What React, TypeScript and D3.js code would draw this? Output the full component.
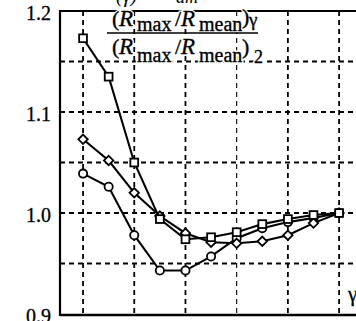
import React from "react";
import * as d3 from "d3";

// gamma positions of the measured points
const gammas = [1.0, 1.1, 1.2, 1.3, 1.4, 1.5, 1.6, 1.7, 1.8, 1.9, 2.0];
// normalised ratio for the three cases
const squareSeries = [1.173, 1.135, 1.05, 0.994, 0.974, 0.976, 0.981, 0.989, 0.994, 0.998, 1.0];
const diamondSeries = [1.073, 1.052, 1.02, 0.997, 0.98, 0.971, 0.97, 0.972, 0.978, 0.99, 1.0];
const circleSeries = [1.039, 1.026, 0.978, 0.943, 0.943, 0.957, 0.975, 0.985, 0.991, 0.995, 1.0];
// grid lines
const xGrid = [1.0, 1.2, 1.4, 1.6, 1.8, 2.0];
const yGrid = [0.95, 1.0, 1.05, 1.1, 1.15];
const yTicks = [0.9, 1.0, 1.1, 1.2];

const W = 356;
const H = 321;
const left = 60;
const top = 11;
const bottom = 314;

const x = d3.scaleLinear().domain([0.91, 2.066]).range([left, W]);
const y = d3.scaleLinear().domain([0.9, 1.2]).range([bottom, top]);

const serif = "Liberation Serif, serif";

function Marker({ kind, cx, cy }: { kind: string; cx: number; cy: number }) {
  const common = { fill: "white", stroke: "black", strokeWidth: 1.8 };
  if (kind === "square") {
    return <rect x={cx - 3.9} y={cy - 3.9} width={7.8} height={7.8} {...common} />;
  }
  if (kind === "diamond") {
    const r = 4.7;
    return (
      <path d={`M${cx},${cy - r}L${cx + r},${cy}L${cx},${cy + r}L${cx - r},${cy}Z`} {...common} />
    );
  }
  return <circle cx={cx} cy={cy} r={4.1} {...common} />;
}

// one piece of the fraction label
type Piece = { t: string; x: number; y: number; s: number; it?: boolean };

const numerator: Piece[] = [
  { t: "(", x: 112, y: 26, s: 22 },
  { t: "R", x: 119, y: 26, s: 23, it: true },
  { t: "max", x: 137, y: 31, s: 20 },
  { t: "/", x: 175, y: 26, s: 22 },
  { t: "R", x: 181, y: 26, s: 23, it: true },
  { t: "mean", x: 199, y: 31, s: 20 },
  { t: ")", x: 242, y: 24, s: 22 },
  { t: "γ", x: 249, y: 26, s: 19 },
];
const denominator: Piece[] = [
  { t: "(", x: 112, y: 54, s: 22 },
  { t: "R", x: 119, y: 54, s: 23, it: true },
  { t: "max", x: 137, y: 62, s: 20 },
  { t: "/", x: 175, y: 54, s: 22 },
  { t: "R", x: 181, y: 54, s: 23, it: true },
  { t: "mean", x: 199, y: 62, s: 20 },
  { t: ")", x: 242, y: 54, s: 22 },
  { t: "2", x: 254, y: 63, s: 18 },
];

function Pieces({ items }: { items: Piece[] }) {
  return (
    <>
      {/* white halo keeps the frame/grid clear around the glyphs */}
      <g fill="white" stroke="white" strokeWidth={3}>
        {items.map((p, i) => (
          <text key={i} x={p.x} y={p.y} fontSize={p.s} fontStyle={p.it ? "italic" : "normal"}>
            {p.t}
          </text>
        ))}
      </g>
      <g fill="black" stroke="black" strokeWidth={0.35}>
        {items.map((p, i) => (
          <text key={i} x={p.x} y={p.y} fontSize={p.s} fontStyle={p.it ? "italic" : "normal"}>
            {p.t}
          </text>
        ))}
      </g>
    </>
  );
}

export default function App() {
  const line = d3
    .line<number>()
    .x((_, i) => x(gammas[i]))
    .y((v) => y(v));

  const series = [
    { kind: "circle", values: circleSeries },
    { kind: "diamond", values: diamondSeries },
    { kind: "square", values: squareSeries },
  ];

  return (
    <svg
      width={W}
      height={H}
      style={{ position: "absolute", left: 0, top: 0, background: "white", fontFamily: serif }}
    >
      <rect x={0} y={0} width={W} height={H} fill="white" />
      {/* grid */}
      {xGrid.map((g) => (
        <line
          key={"gx" + g}
          x1={x(g)}
          x2={x(g)}
          y1={top}
          y2={bottom}
          stroke="black"
          strokeWidth={g === 1.6 ? 1.1 : 1.8}
          strokeDasharray="5,4"
        />
      ))}
      {yGrid.map((g) => (
        <line
          key={"gy" + g}
          x1={left}
          x2={W}
          y1={y(g)}
          y2={y(g)}
          stroke="black"
          strokeWidth={1.8}
          strokeDasharray="5,4"
        />
      ))}
      {/* frame */}
      <line x1={left} x2={W} y1={top} y2={top} stroke="black" strokeWidth={2} />
      <line x1={left} x2={W} y1={bottom + 1} y2={bottom + 1} stroke="black" strokeWidth={2.4} />
      <line x1={left} x2={left} y1={top - 1} y2={bottom + 2} stroke="black" strokeWidth={2.2} />

      {/* tick labels */}
      {yTicks.map((t) => (
        <text
          key={"t" + t}
          x={51}
          y={y(t) + 2}
          dy="0.35em"
          textAnchor="end"
          fontSize={20}
          fill="black"
          stroke="black"
          strokeWidth={0.3}
        >
          {t.toFixed(1)}
        </text>
      ))}
      <text x={348} y={301} fontSize={21} fill="black" stroke="black" strokeWidth={0.3}>
        γ
      </text>

      {/* series */}
      {series.map((s) => (
        <g key={s.kind}>
          <path d={line(s.values) || ""} fill="none" stroke="black" strokeWidth={2.1} />
          {s.values.map((v, i) => (
            <Marker key={i} kind={s.kind} cx={x(gammas[i])} cy={y(v)} />
          ))}
        </g>
      ))}

      {/* partially clipped heading above the fraction */}
      <g fill="black" fontStyle="italic">
        <text x={116} y={2} fontSize={20}>(γ)</text>
        <text x={176} y={3} fontSize={18}>am</text>
      </g>

      {/* fraction label */}
      <Pieces items={numerator} />
      <line x1={107} x2={258} y1={33} y2={33} stroke="black" strokeWidth={1.6} />
      <Pieces items={denominator} />
    </svg>
  );
}
